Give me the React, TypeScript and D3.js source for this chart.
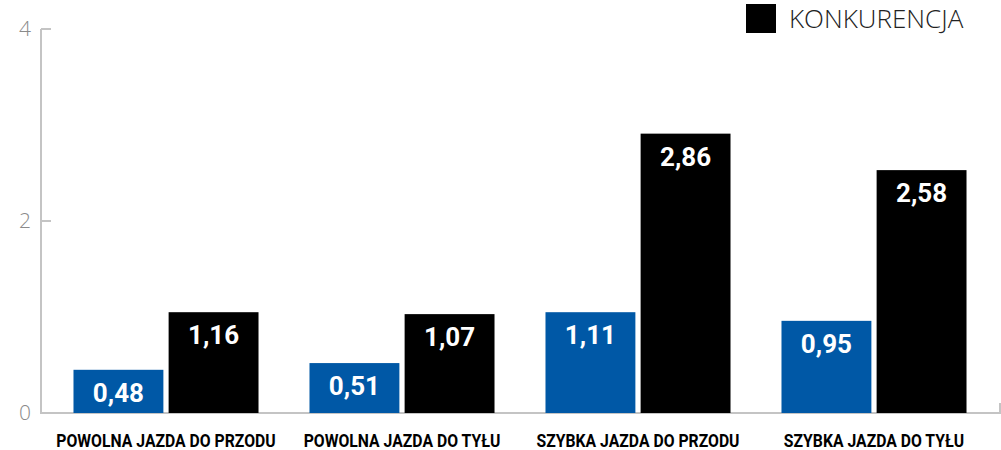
import React from "react";
import * as d3 from "d3";

const categories = [
  "POWOLNA JAZDA DO PRZODU",
  "POWOLNA JAZDA DO TYŁU",
  "SZYBKA JAZDA DO PRZODU",
  "SZYBKA JAZDA DO TYŁU",
];
const seriesNames = ["FIRMA", "KONKURENCJA"];
// bar heights as drawn in the picture
const blueValues = [0.45, 0.52, 1.05, 0.96];
const blackValues = [1.05, 1.03, 2.91, 2.53];
// value labels printed on the bars
const blueLabels = ["0,48", "0,51", "1,11", "0,95"];
const blackLabels = ["1,16", "1,07", "2,86", "2,58"];
const yTicks = [0, 2, 4];
const legendItems = ["KONKURENCJA"];

const W = 1001;
const H = 450;
const colors = { FIRMA: "#0058a6", KONKURENCJA: "#000000" };

export default function App() {
  const y = d3.scaleLinear().domain([0, 4]).range([413, 29]);
  const x0 = d3
    .scaleBand<string>()
    .domain(categories)
    .range([48, 992])
    .paddingInner(0.216)
    .paddingOuter(0.108);
  const x1 = d3
    .scaleBand<string>()
    .domain(seriesNames)
    .range([0, x0.bandwidth()])
    .paddingInner(0.055);

  const series = [
    { name: "FIRMA", values: blueValues, labels: blueLabels },
    { name: "KONKURENCJA", values: blackValues, labels: blackLabels },
  ];

  const axisColor = "#c4c4c4";
  return (
    <svg
      width={W}
      height={H}
      style={{ position: "absolute", left: 0, top: 0, background: "#fff" }}
    >
      {/* y axis */}
      <line x1={41} x2={41} y1={y(4)} y2={y(0)} stroke={axisColor} strokeWidth={2} />
      {yTicks.map((t) => (
        <g key={t}>
          {t > 0 && (
            <line x1={41} x2={51} y1={y(t)} y2={y(t)} stroke={axisColor} strokeWidth={2} />
          )}
          <text
            x={31}
            y={y(t)}
            dy="0.35em"
            textAnchor="end"
            fontFamily="'Open Sans', sans-serif"
            fontWeight={300}
            fontSize={21}
            fill="#8a8a8a"
          >
            {t}
          </text>
        </g>
      ))}
      {/* x axis */}
      <line x1={40} x2={1000} y1={y(0)} y2={y(0)} stroke={axisColor} strokeWidth={2} />
      <line x1={1000} x2={1000} y1={y(0) - 10} y2={y(0) + 1} stroke={axisColor} strokeWidth={2} />

      {/* bars */}
      {categories.map((c, i) => (
        <g key={c} transform={`translate(${x0(c)},0)`}>
          {series.map((s) => {
            const bx = x1(s.name)!;
            const top = y(s.values[i]);
            return (
              <g key={s.name}>
                <rect
                  x={bx}
                  y={top}
                  width={x1.bandwidth()}
                  height={y(0) - top}
                  fill={(colors as any)[s.name]}
                />
                <text
                  x={bx + x1.bandwidth() / 2}
                  y={top + 32}
                  textAnchor="middle"
                  fontFamily="Roboto, sans-serif"
                  fontWeight={700}
                  fontSize={26}
                  fill="#fff"
                >
                  {s.labels[i]}
                </text>
              </g>
            );
          })}
          <text
            x={x0.bandwidth() / 2}
            y={447.5}
            textAnchor="middle"
            fontFamily="Roboto, sans-serif"
            fontWeight={700}
            fontSize={19}
            fill="#000"
            transform={`translate(${x0.bandwidth() / 2},0) scale(0.83,1) translate(${-x0.bandwidth() / 2},0)`}
          >
            {c}
          </text>
        </g>
      ))}

      {/* legend */}
      {legendItems.map((l) => (
        <g key={l}>
          <rect x={746} y={4} width={30} height={29} fill={(colors as any)[l]} />
          <text
            x={789}
            y={28}
            fontFamily="'Open Sans', sans-serif"
            fontWeight={300}
            fontSize={26}
            fill="#222"
          >
            {l}
          </text>
        </g>
      ))}
    </svg>
  );
}
